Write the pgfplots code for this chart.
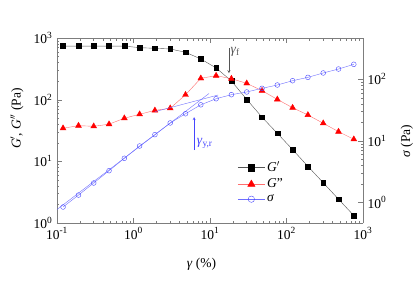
\documentclass[border=0pt]{standalone}
\usepackage{fontspec}
\setmainfont{Liberation Serif}
\usepackage{pgfplots}
\pgfplotsset{compat=1.18}
\definecolor{gp}{RGB}{85,85,85}
\definecolor{rl}{RGB}{255,110,110}
\definecolor{bl}{RGB}{70,70,255}
\definecolor{bll}{RGB}{110,110,255}
\definecolor{ax}{RGB}{125,125,125}
\begin{document}
\fontsize{13.5bp}{15bp}\selectfont
\begin{tikzpicture}[font=\fontsize{13.5bp}{15bp}\selectfont]
\useasboundingbox (-57bp,-64bp) rectangle (358bp,223bp);
\begin{axis}[scale only axis, width=306bp, height=185bp,
  xmode=log, ymode=log, xmin=0.1, xmax=1000,
  tick align=inside, major tick length=5bp, minor tick length=2.5bp,
  axis line style={ax}, every tick/.append style={ax},
  ymin=1, ymax=1000,
  axis y line*=left,
  tick label style={font=\fontsize{13.5bp}{15bp}\selectfont},
  label style={font=\fontsize{13.5bp}{15bp}\selectfont},
  xtick={0.1,1,10,100,1000},
  xticklabels={10\textsuperscript{-1},10\textsuperscript{0},10\textsuperscript{1},10\textsuperscript{2},10\textsuperscript{3}},
  ytick={1,10,100,1000},
  yticklabels={10\textsuperscript{0},10\textsuperscript{1},10\textsuperscript{2},10\textsuperscript{3}},
  xlabel={\textit{γ} (\%)},
  ylabel={\textit{G}$'$, \textit{G}$''$ (Pa)},
  xlabel style={at={(axis description cs:0.472,-0.222)}, anchor=center},
  ylabel style={at={(axis description cs:-0.131,0.565)}, anchor=center},
  legend style={draw=none, fill=none, at={(0.58,0.355)}, anchor=north west, row sep=1bp, legend cell align=left, font=\fontsize{13.5bp}{15bp}\selectfont},
  legend image code/.code={\draw[mark repeat=2,mark phase=2,#1] plot coordinates {(0bp,0bp) (13.5bp,0bp) (27bp,0bp)};},
]
\addlegendimage{gp, mark=square*, mark options={draw=black, fill=black}, mark size=3.2bp}
\addlegendentry{\textit{G}$'$}
\addlegendimage{rl, mark=triangle*, mark options={draw=red, fill=red}, mark size=4.2bp}
\addlegendentry{\textit{G}"}
\addlegendimage{bll, mark=o, mark options={draw=bl, fill=white}, mark size=3.2bp}
\addlegendentry{\textit{σ}}
\addplot[gp, mark=square*, mark options={draw=black, fill=black}, mark size=2.4bp, forget plot] coordinates {
(0.120,740) (0.191,740) (0.302,740) (0.479,740) (0.759,740) (1.202,697) (1.905,681) (3.020,664) (4.786,587) (7.586,457)
(12.02,327) (19.05,201) (30.20,101) (47.86,52) (75.86,28.5) (120.2,15.5) (190.5,8.3) (302.0,4.5) (478.6,2.43) (758.6,1.32)};
\addplot[rl, mark=triangle*, mark options={draw=red, fill=red}, mark size=3.4bp, forget plot] coordinates {
(0.120,34.4) (0.191,37.9) (0.302,37) (0.479,40) (0.759,50) (1.202,58) (1.905,67) (3.020,72.5) (4.786,120) (7.586,222)
(12.02,245) (19.05,219) (30.20,184) (47.86,140) (75.86,101) (120.2,74) (190.5,56.5) (302.0,41.4) (478.6,30.3) (758.6,22.8)};
\addplot[gp, -stealth, forget plot] coordinates {(17.7,681) (17.7,268)};
\node[anchor=west, inner sep=0.5bp, gp] at (axis cs:18.2,593) {\textit{γ}\textsubscript{f}};
\end{axis}
\begin{axis}[scale only axis, width=306bp, height=185bp,
  xmode=log, ymode=log, xmin=0.1, xmax=1000,
  tick align=inside, major tick length=5bp, minor tick length=2.5bp,
  axis line style={ax}, every tick/.append style={ax},
  ymin=0.465, ymax=465,
  axis y line*=right, axis x line=none,
  tick label style={font=\fontsize{13.5bp}{15bp}\selectfont},
  label style={font=\fontsize{13.5bp}{15bp}\selectfont},
  ytick={1,10,100},
  yticklabels={10\textsuperscript{0},10\textsuperscript{1},10\textsuperscript{2}},
  ylabel={\textit{σ} (Pa)},
  ylabel style={at={(axis description cs:1.143,0.443)}, anchor=center},
]
\addplot[bll, mark=o, mark options={draw=bl}, mark size=2.4bp] coordinates {
(0.120,0.845) (0.191,1.32) (0.302,2.07) (0.479,3.28) (0.759,5.21) (1.202,8.24) (1.905,12.6) (3.020,19.5) (4.786,27.5) (7.586,38.4)
(12.02,48.2) (19.05,56) (30.20,62) (47.86,71) (75.86,80.4) (120.2,94.4) (190.5,107) (302.0,126) (478.6,146) (758.6,174)};
\addplot[bll, no marks] coordinates {(0.1,0.77) (9.7,58.5)};
\addplot[bll, no marks] coordinates {(1.91,29.7) (12.8,55.4)};
\addplot[bl, -stealth] coordinates {(6.2,7.1) (6.2,24.3)};
\node[anchor=west, inner sep=0.5bp, bl] at (axis cs:6.6,9.2) {\textit{γ}\textsubscript{y,r}};
\end{axis}
\end{tikzpicture}
\end{document}
